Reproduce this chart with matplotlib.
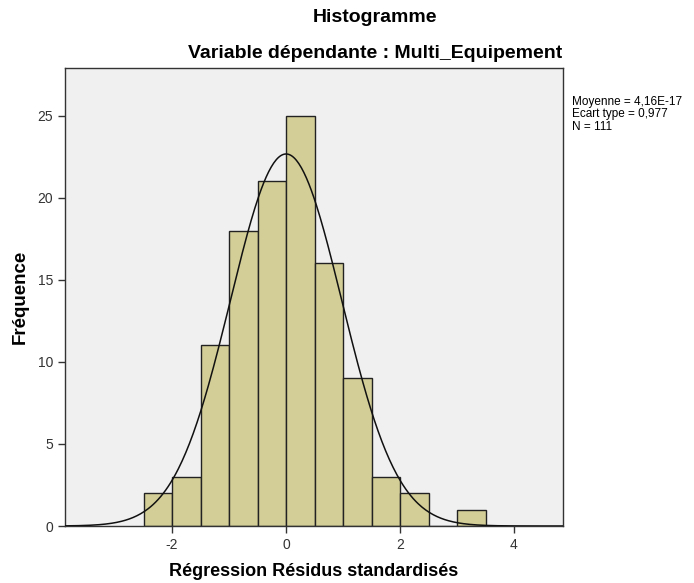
import numpy as np
import matplotlib.pyplot as plt

plt.rcParams['font.family'] = ['Liberation Sans', 'DejaVu Sans']
plt.rcParams['axes.unicode_minus'] = False

# residual bins (width 0.5) and their counts
bin_edges = [-2.5, -2.0, -1.5, -1.0, -0.5, 0.0, 0.5, 1.0, 1.5, 2.0, 2.5, 3.0, 3.5]
counts = [2, 3, 11, 18, 21, 25, 16, 9, 3, 2, 0, 1]
mean = 4.16e-17
std = 0.977
n = 111

fig = plt.figure(figsize=(6.94, 5.83), dpi=100)
ax = fig.add_axes([65 / 694, 57 / 583, 498 / 694, 458 / 583])
ax.set_facecolor('#f0f0f0')

lefts = bin_edges[:-1]
widths = np.diff(bin_edges)
ax.bar(lefts, counts, width=widths, align='edge', color='#d3ce97',
       edgecolor='#222222', linewidth=1.0, zorder=2)

# fitted normal curve scaled to counts
width = widths[0]
xs = np.linspace(-3.9, 4.9, 400)
ys = n * width * np.exp(-0.5 * ((xs - mean) / std) ** 2) / (std * np.sqrt(2 * np.pi))
ax.plot(xs, ys, color='#111111', linewidth=1.1, zorder=3)

ax.set_xlim(-3.88, 4.86)
ax.set_ylim(0, 27.9)
ax.set_xticks([-2, 0, 2, 4])
ax.set_yticks([0, 5, 10, 15, 20, 25])
ax.tick_params(direction='out', length=5, width=1, labelsize=10, colors='#333333')
for s in ax.spines.values():
    s.set_color('#333333')
    s.set_linewidth(1)

fig.text(314 / 694, 1 - 571 / 583, 'Régression Résidus standardisés', ha='center',
         va='center', fontsize=13, fontweight='bold')
fig.text(20 / 694, 1 - 297 / 583, 'Fréquence', ha='center', va='center',
         rotation=90, fontsize=13.5, fontweight='bold')

fig.text(375 / 694, 1 - 18 / 583, 'Histogramme', ha='center', va='center',
         fontsize=14, fontweight='bold')
fig.text(375 / 694, 1 - 53 / 583, 'Variable dépendante : Multi_Equipement', ha='center',
         va='center', fontsize=14, fontweight='bold')

fig.text(572 / 694, 1 - 96 / 583, 'Moyenne = 4,16E-17\nEcart type = 0,977\nN = 111',
         ha='left', va='top', fontsize=8.5, linespacing=1.05)

fig.savefig('out.png', dpi=100)
